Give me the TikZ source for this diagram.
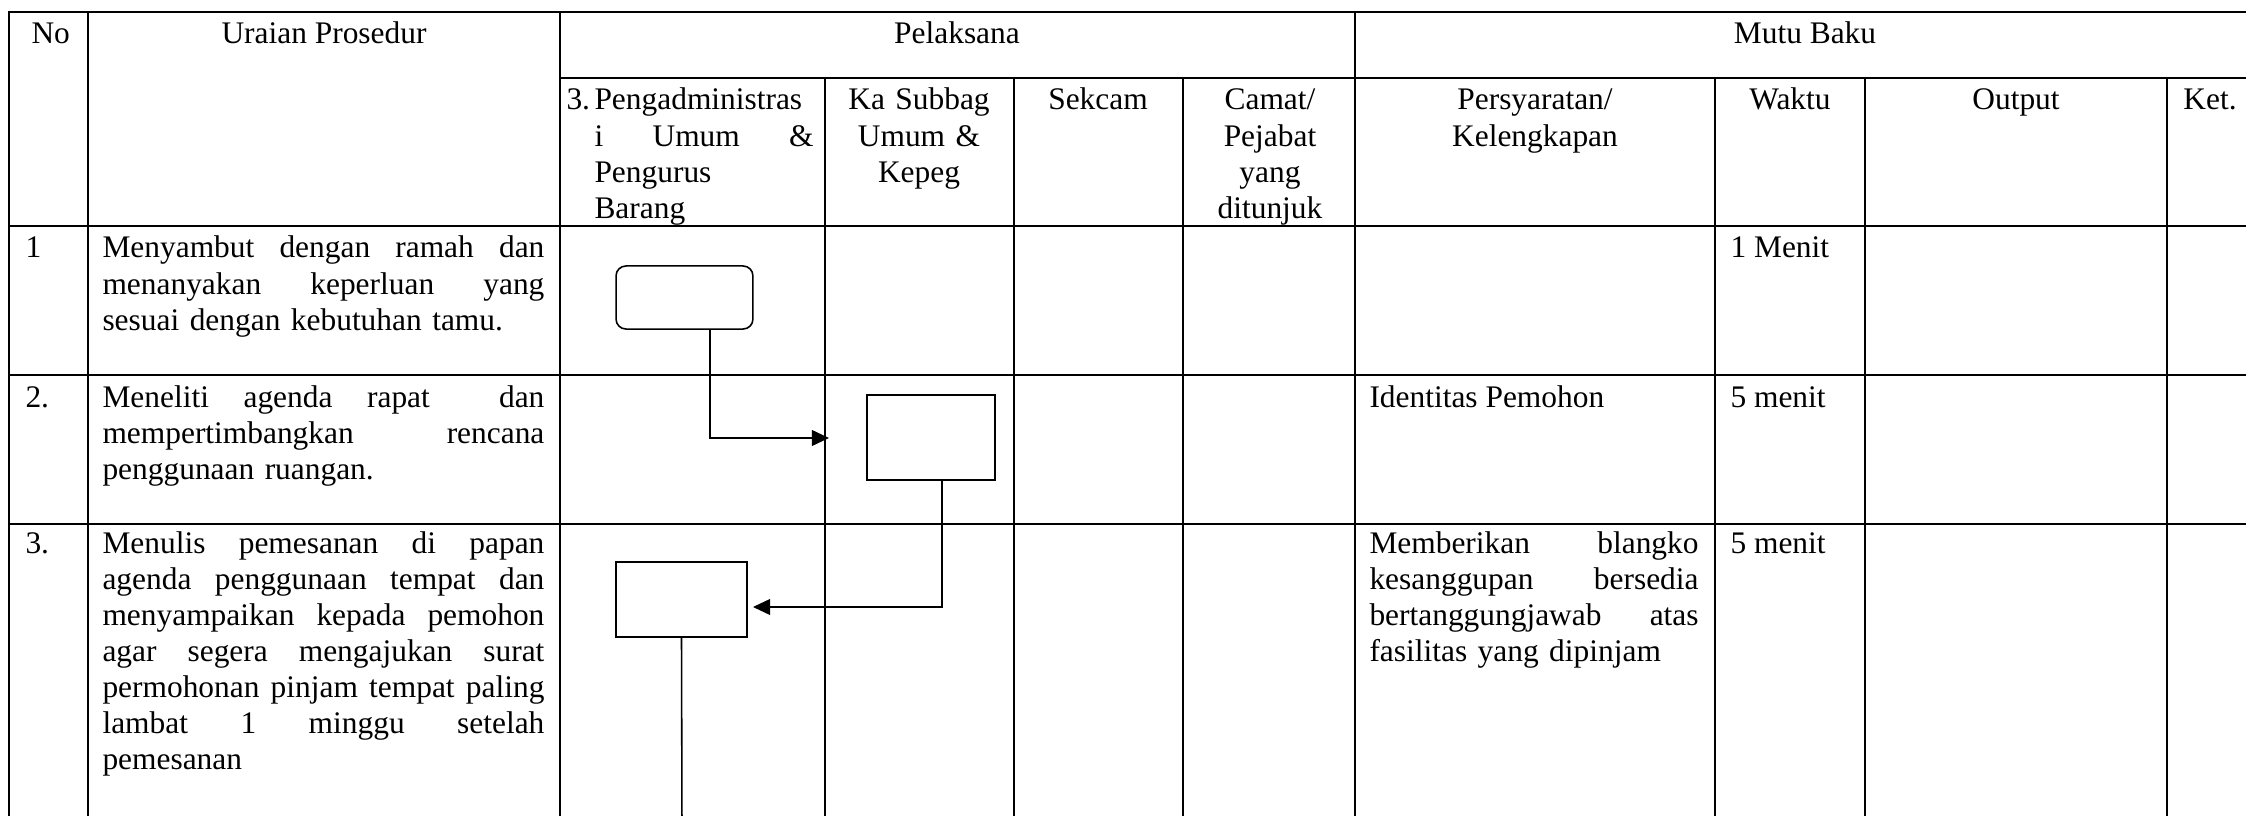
\documentclass[tikz,border=0pt]{standalone}
\usepackage{fontspec}
\setmainfont{Liberation Serif}
\usetikzlibrary{arrows.meta}
\tikzset{>={Triangle[length=6.5pt,width=6pt]}}
\newcommand{\jl}[2][168.8pt]{\makebox[#1][s]{\spaceskip=0pt\xspaceskip=0pt #2}\\}

\begin{document}
\begin{tikzpicture}[x=0.382pt, y=-0.382pt,
  grid/.style={line width=0.8pt},
  txt/.style={inner sep=0pt, anchor=base west, font=\fontsize{12}{13.8}\selectfont},
  ctr/.style={txt, anchor=base, align=center},
  box/.style={draw, line width=0.6pt, inner sep=0pt},
  flow/.style={line width=0.6pt}]
  \fill[white] (0,0) rectangle (2246,816);
  \useasboundingbox (0,0) rectangle (2246,816);
  \clip (0,0) rectangle (2246,816);

  % TABLE
  \draw[grid] (9,830) |- (2254,12) -- (2254,830);
  \foreach \x in {88,560,1355} \draw[grid] (\x,12) -- (\x,830);
  \foreach \x in {825,1014,1183,1715,1865,2167} \draw[grid] (\x,78) -- (\x,830);
  \draw[grid] (560,78) -- (2254,78);
  \foreach \y in {226,375,524} \draw[grid] (9,\y) -- (2254,\y);

  % HEADER
  \node[txt] (no) at (31,44) {No};
  \node[ctr] (uraian) at (324,44) {Uraian Prosedur};
  \node[ctr] (pelaksana) at (957,44) {Pelaksana};
  \node[ctr] (mutu) at (1805,44) {Mutu Baku};
  \node[txt] (n3) at (566,110) {3.};
  \node[txt, text width=83.7pt, align=left] (admin) at (594,110)
    {Pengadministras\\\jl[83.7pt]{i Umum \&}Pengurus\\Barang};
  \node[ctr, text width=68pt] (kasub) at (919,110) {Ka Subbag\\Umum \&\\Kepeg};
  \node[ctr] (sekcam) at (1098,110) {Sekcam};
  \node[ctr, text width=62pt] (camat) at (1270,110) {Camat/\\Pejabat\\yang\\ditunjuk};
  \node[ctr, text width=130pt] (syarat) at (1535,110) {Persyaratan/\\Kelengkapan};
  \node[ctr] (waktu) at (1790,110) {Waktu};
  \node[ctr] (output) at (2016,110) {Output};
  \node[ctr] (ket) at (2210,110) {Ket.};

  % ROWS
  \node[txt] (r1) at (25,258) {1};
  \node[txt, text width=168.8pt, align=left] (u1) at (102,258)
    {\jl{Menyambut dengan ramah dan}\jl{menanyakan keperluan yang}sesuai dengan kebutuhan tamu.};
  \node[txt] (w1) at (1730,258) {1 Menit};

  \node[txt] (r2) at (25,407) {2.};
  \node[txt, text width=168.8pt, align=left] (u2) at (102,407)
    {\jl{Meneliti agenda rapat \ dan}\jl{mempertimbangkan rencana}penggunaan ruangan.};
  \node[txt] (s2) at (1369,407) {Identitas Pemohon};
  \node[txt] (w2) at (1730,407) {5 menit};

  \node[txt] (r3) at (25,553) {3.};
  \node[txt, text width=168.8pt, align=left] (u3) at (102,553)
    {\jl{Menulis pemesanan di papan}\jl{agenda penggunaan tempat dan}\jl{menyampaikan kepada pemohon}%
     \jl{agar segera mengajukan surat}\jl{permohonan pinjam tempat paling}\jl{lambat 1 minggu setelah}pemesanan};
  \node[txt, text width=125.7pt, align=left] (s3) at (1369,553)
    {\jl[125.7pt]{Memberikan blangko}\jl[125.7pt]{kesanggupan bersedia}\jl[125.7pt]{bertanggungjawab atas}fasilitas yang dipinjam};
  \node[txt] (w3) at (1730,553) {5 menit};

  % FLOW
  \node[box, rounded corners=3.8pt, minimum width=52.3pt, minimum height=24.1pt] (mulai) at (684.5,297.5) {};
  \node[box, minimum width=48.9pt, minimum height=32.5pt] (teliti) at (931,437.5) {};
  \node[box, minimum width=50pt, minimum height=28.7pt] (tulis) at (681.5,599.5) {};
  \coordinate (a1) at (829,438);
  \coordinate (a2) at (753,607);
  \coordinate (a3) at (682,830);
  \draw[flow, ->] ([xshift=9.7pt]mulai.south) |- (a1);
  \draw[flow, ->] ([xshift=4.2pt]teliti.south) |- (a2);
  \draw[flow] (tulis.south) -- (a3);
\end{tikzpicture}
\end{document}
